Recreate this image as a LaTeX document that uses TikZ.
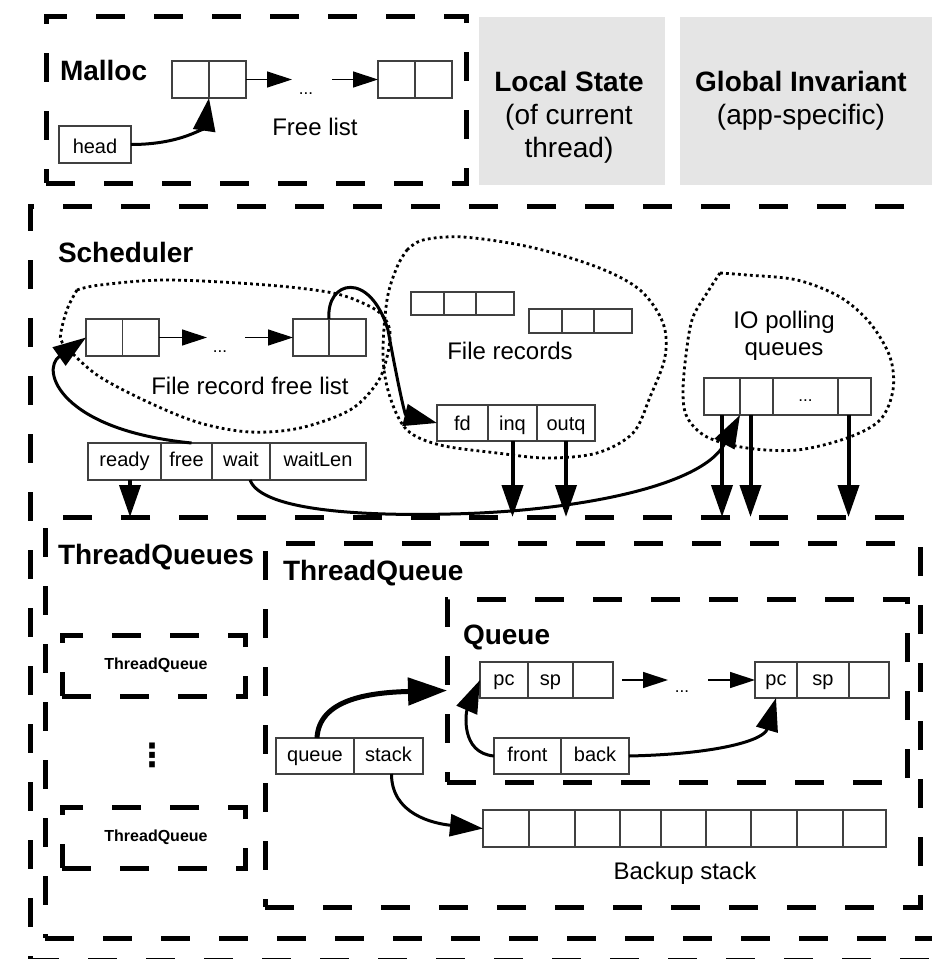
\documentclass[tikz,border=0pt]{standalone}
\usepackage{fontspec}
\setmainfont{Liberation Sans}
\newfontfamily\dejavu{DejaVu Sans}
\usetikzlibrary{arrows.meta}
\newcommand\sizeXL{\fontsize{28pt}{33pt}\selectfont}
\newcommand\sizeL{\fontsize{24pt}{27pt}\selectfont}
\newcommand\sizeM{\fontsize{20pt}{24pt}\selectfont}
\newcommand\sizeS{\fontsize{17pt}{20pt}\selectfont}
\newcommand\sizeT{\fontsize{16pt}{19pt}\selectfont}
\newcommand\tcellnode[6]{\node[tcell, minimum width={(#4)-(#2)}, minimum height={(#5)-(#3)}] (#1) at ({((#2)+(#4))/2},{((#3)+(#5))/2}) {#6};}
\newcommand\dboxnode[5]{\node[dbox, minimum width={(#4)-(#2)}, minimum height={(#5)-(#3)}] (#1) at ({((#2)+(#4))/2},{((#3)+(#5))/2}) {};}
\tikzset{
  tcell/.style={draw=black!75, line width=1.2pt, inner sep=0pt, outer sep=0pt, font=\sizeM, text=black, text height=14.5pt, text depth=4.2pt},
  dbox/.style={draw=black, line width=5pt, dash pattern=on 29pt off 29pt, inner sep=0pt, outer sep=0pt},
  graybox/.style={fill=black!10, inner sep=0pt, outer sep=0pt},
  blob/.style={draw=black, line width=2.8pt, dash pattern=on 2.8pt off 3.2pt},
  thinarr/.style={line width=1.3pt, -{Triangle[length=25pt,width=16pt]}},
  curvarr/.style={line width=3pt, -{Triangle[length=33pt,width=22pt]}},
  fatarr/.style={line width=5pt, -{Triangle[length=39pt,width=27pt]}},
  downarr/.style={line width=4pt, -{Triangle[length=32pt,width=21pt]}},
  lbl/.style={inner sep=0pt, outer sep=0pt, text=black},
}
\begin{document}
\begin{tikzpicture}[x=1pt,y=-1pt]
\useasboundingbox (0,0) rectangle (932,959);
% ---------- top row ----------
\node[graybox, minimum width=186pt, minimum height=168pt] (local) at (572,101) {};
\node[graybox, minimum width=260pt, minimum height=168pt] (global) at (810,101) {};
\node[lbl, align=center, font=\sizeXL] (localtxt) at (569,117) {\textbf{Local State}\\(of current\\thread)};
\node[lbl, align=center, font=\sizeXL] (globaltxt) at (801,101) {\textbf{Global Invariant}\\(app-specific)};
\dboxnode{malloc}{46}{16}{466}{183}
\node[lbl, anchor=west, font=\sizeXL\bfseries] (malloctxt) at (60,70) {Malloc};
\tcellnode{m1a}{172}{61}{209}{98}{}
\tcellnode{m1b}{209}{61}{246}{98}{}
\tcellnode{m2a}{378}{61}{415}{98}{}
\tcellnode{m2b}{415}{61}{452}{98}{}
\tcellnode{head}{59}{126}{131}{163}{\raisebox{-4pt}{head}}
\node[lbl, font=\sizeS] (mdots) at (306,94) {...};
\node[lbl, font=\sizeL] (freelist) at (315,127) {Free list};
\coordinate (ma1) at (292,79.5);
\coordinate (ma2) at (332,79.5);
\draw[thinarr] (m1b.east) -- (ma1);
\draw[thinarr] (ma2) -- (m2a.west);
\draw[curvarr] (head.east) .. controls +(54,0) and +(-4,27) .. (m1b.south west);
% ---------- scheduler ----------
\dboxnode{sched}{30}{206}{960}{960}
\node[lbl, anchor=west, font=\sizeXL\bfseries] (schedtxt) at (58,252) {Scheduler};
\draw[blob] plot[smooth, tension=0.55] coordinates {(77,290) (100,285) (167,280) (267,285) (333,293) (367,305) (383,316) (390,332) (387,357) (377,383) (350,410) (300,428) (250,432) (200,423) (150,403) (100,377) (72,353) (61,340) (62,327) (68,307) (77,290)};
\draw[blob] plot[smooth, tension=0.55] coordinates {(407,250) (423,240) (463,237) (530,247) (597,267) (640,290) (663,323) (665,357) (650,397) (633,433) (597,453) (547,458) (497,453) (440,445) (407,430) (390,397) (383,357) (387,300) (397,267) (407,250)};
\draw[blob] plot[smooth, tension=0.55] coordinates {(720,273) (747,275) (797,280) (840,297) (870,323) (890,357) (893,390) (880,420) (847,438) (797,450) (747,448) (707,437) (687,417) (683,390) (687,347) (693,317) (707,293) (720,273)};
\tcellnode{f1a}{86}{319}{122.5}{356}{}
\tcellnode{f1b}{122.5}{319}{159}{356}{}
\tcellnode{f2a}{293}{319}{329}{356}{}
\tcellnode{f2b}{329}{319}{366}{356}{}
\node[lbl, font=\sizeS] (fdots) at (220,352) {...};
\coordinate (fa1) at (207,337.5);
\coordinate (fa2) at (245,337.5);
\draw[thinarr] (f1b.east) -- (fa1);
\draw[thinarr] (fa2) -- (f2a.west);
\node[lbl, font=\sizeL] (frfl) at (250,386) {File record free list};
\tcellnode{ra1}{411}{292}{444}{315}{}
\tcellnode{ra2}{444}{292}{476}{315}{}
\tcellnode{ra3}{476}{292}{514}{315}{}
\tcellnode{rb1}{529}{309}{562}{333}{}
\tcellnode{rb2}{562}{309}{594}{333}{}
\tcellnode{rb3}{594}{309}{632}{333}{}
\node[lbl, font=\sizeL] (frtxt) at (510,351) {File records};
\tcellnode{fd}{437}{405}{488}{441}{\raisebox{-2.5pt}{fd}}
\tcellnode{inq}{488}{405}{537}{441}{\raisebox{-2.5pt}{inq}}
\tcellnode{outq}{537}{405}{595}{441}{\raisebox{-2.5pt}{outq}}
\node[lbl, align=center, font=\sizeL] (iotxt) at (784,336) {IO polling\\queues};
\tcellnode{io1}{704}{378}{740}{415}{}
\tcellnode{io2}{740}{378}{773}{415}{}
\tcellnode{io3}{773}{378}{838}{415}{\sizeS ...}
\tcellnode{io4}{838}{378}{871}{415}{}
\tcellnode{ready}{88}{443}{161}{480}{ready}
\tcellnode{free}{161}{443}{212}{480}{free}
\tcellnode{wait}{212}{443}{270}{480}{wait}
\tcellnode{waitlen}{270}{443}{366}{480}{waitLen}
% ---------- thread queues ----------
\dboxnode{tqs}{45}{517}{960}{938}
\dboxnode{tq}{265}{543}{920}{907}
\dboxnode{qbox}{447}{599}{907}{782}
\dboxnode{stq1}{62}{635}{245}{696}
\dboxnode{stq2}{62}{807}{245}{868}
\node[lbl, anchor=west, font=\sizeXL\bfseries] (tqstxt) at (58,557) {ThreadQueues};
\node[lbl, anchor=west, font=\sizeXL\bfseries] (tqtxt) at (283,573) {ThreadQueue};
\node[lbl, anchor=west, font=\sizeXL\bfseries] (qtxt) at (463,637) {Queue};
\node[lbl, font=\sizeT\bfseries] (stq1txt) at (156,665) {ThreadQueue};
\node[lbl, font=\sizeT\bfseries] (stq2txt) at (156,837) {ThreadQueue};
\node[lbl, font=\fontsize{32pt}{36pt}\dejavu\bfseries] (vdots) at (152,755) {⋮};
\tcellnode{q1a}{480}{662}{528}{698}{pc}
\tcellnode{q1b}{528}{662}{573}{698}{sp}
\tcellnode{q1c}{573}{662}{613}{698}{}
\tcellnode{q2a}{755}{662}{797}{698}{pc}
\tcellnode{q2b}{797}{662}{849}{698}{sp}
\tcellnode{q2c}{849}{662}{889}{698}{}
\node[lbl, font=\sizeS] (qdots) at (682,692) {...};
\coordinate (qa1) at (622,680);
\coordinate (qa2) at (668,680);
\coordinate (qa3) at (708,680);
\draw[thinarr] (qa1) -- (qa2);
\draw[thinarr] (qa3) -- (q2a.west);
\tcellnode{front}{494}{738}{561}{774}{front}
\tcellnode{back}{561}{738}{629}{774}{back}
\tcellnode{queue}{276}{738}{354}{774}{queue}
\tcellnode{stack}{354}{738}{423}{774}{stack}
\tcellnode{bk1}{483}{810}{529}{847}{}
\tcellnode{bk2}{529}{810}{575}{847}{}
\tcellnode{bk3}{575}{810}{620}{847}{}
\tcellnode{bk4}{620}{810}{661}{847}{}
\tcellnode{bk5}{661}{810}{706}{847}{}
\tcellnode{bk6}{706}{810}{751}{847}{}
\tcellnode{bk7}{751}{810}{797}{847}{}
\tcellnode{bk8}{797}{810}{843}{847}{}
\tcellnode{bk9}{843}{810}{886}{847}{}
\node[lbl, font=\sizeL] (bktxt) at (685,873) {Backup stack};
% ---------- connectors ----------
\draw[curvarr] ([xshift=5pt]free.north) .. controls (60,430) and (40,370) .. (f1a.west);
\draw[curvarr] (f2b.north west) .. controls (326,280) and (370,270) .. (388,330) .. controls (398,385) and (405,415) .. (fd.west);
\draw[curvarr] ([xshift=9pt]wait.south) .. controls (262,512) and (370,516) .. (450,514) .. controls (560,512) and (700,490) .. (io2.south west);
\path ([xshift=5.5pt]ready.south) coordinate (rs);
\path ([xshift=-6pt]io2.south) coordinate (io2s);
\path ([xshift=-6pt]io4.south) coordinate (io4s);
\draw[downarr] (rs) -- (rs |- tqs.north);
\draw[downarr] (inq.south) -- (inq.south |- tqs.north);
\draw[downarr] (outq.south) -- (outq.south |- tqs.north);
\draw[downarr] (io1.south) -- (io1.south |- tqs.north);
\draw[downarr] (io2s) -- (io2s |- tqs.north);
\draw[downarr] (io4s) -- (io4s |- tqs.north);
\draw[fatarr] ([xshift=2pt]queue.north) .. controls +(2,-38) and +(-80,2) .. (qbox.west);
\draw[curvarr] ([xshift=3pt]stack.south) .. controls +(0,40) and +(-50,-5) .. (bk1.west);
\draw[curvarr] (front.west) .. controls +(-34,-3) and +(-14,32) .. (q1a.west);
\draw[curvarr] (back.east) .. controls +(90,-2) and +(-12,42) .. (q2a.south);
\end{tikzpicture}
\end{document}
